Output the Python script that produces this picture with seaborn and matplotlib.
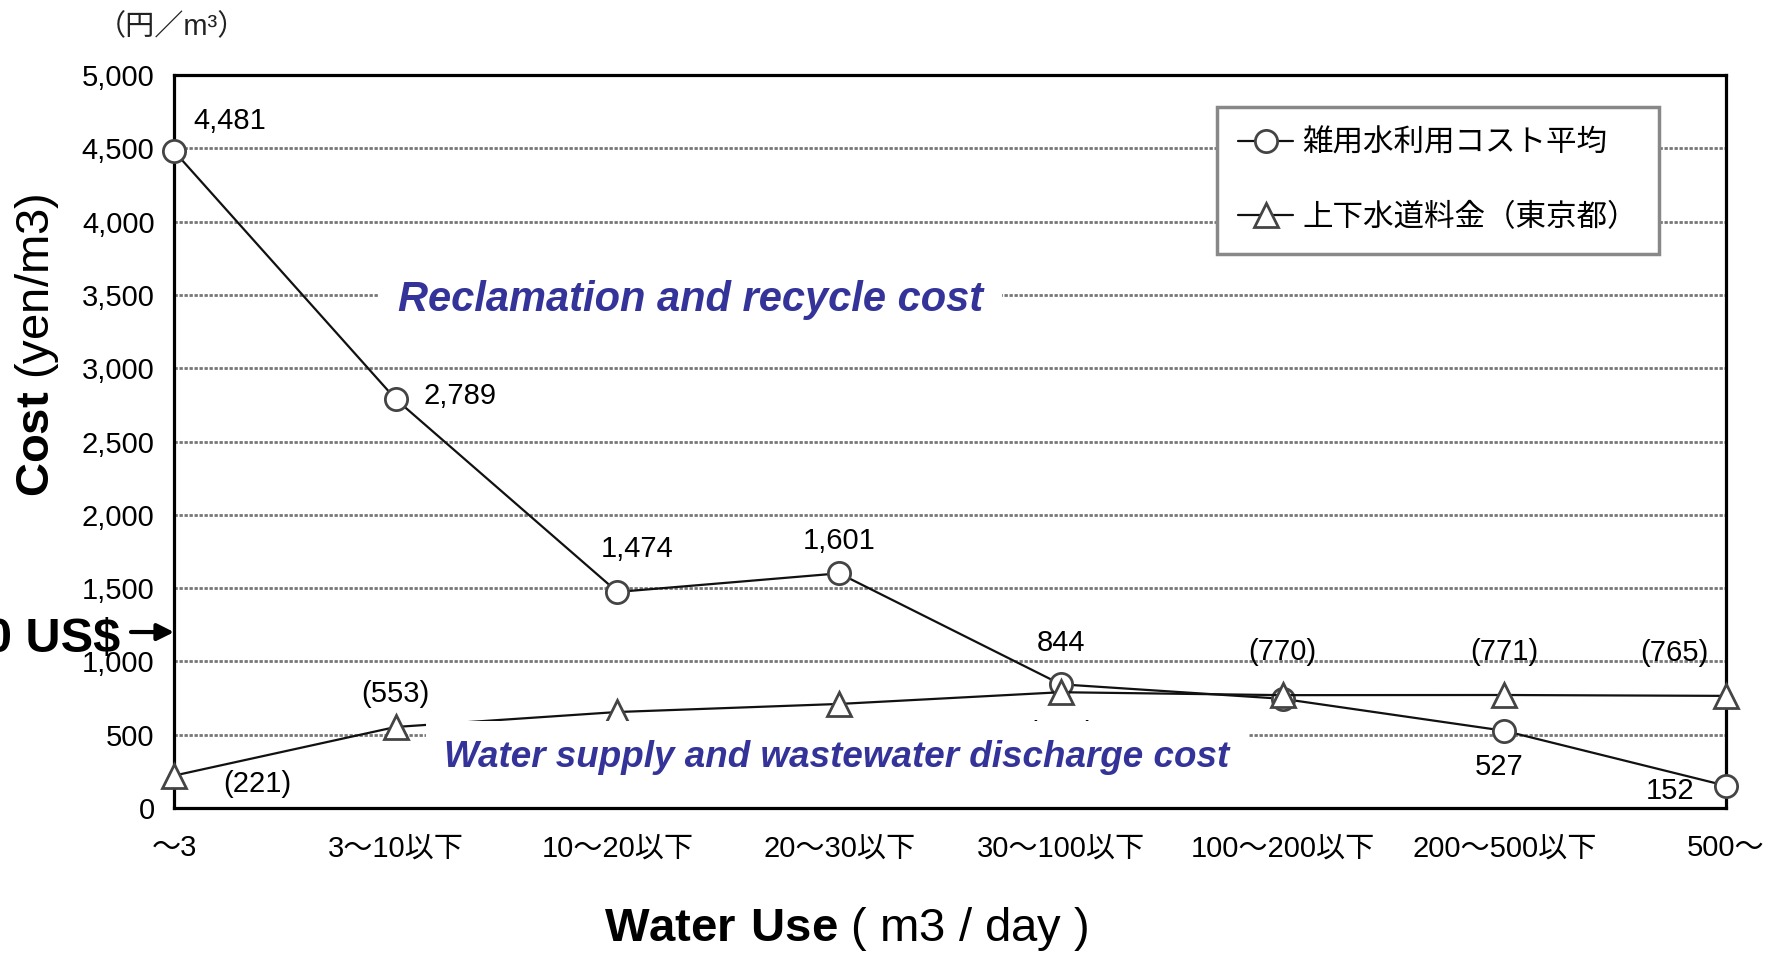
import numpy as np
import pandas as pd
import matplotlib
matplotlib.use('Agg')
import matplotlib.pyplot as plt
import seaborn as sns

# data
categories = ['～3', '3～10以下', '10～20以下', '20～30以下', '30～100以下',
              '100～200以下', '200～500以下', '500～']
reuse_cost = [4481, 2789, 1474, 1601, 844, 745, 527, 152]
reuse_text = ['4,481', '2,789', '1,474', '1,601', '844', '', '527', '152']
tap_cost = [221, 553, 655, 710, 790, 770, 771, 765]
tap_text = ['(221)', '(553)', '', '', '(790)', '(770)', '(771)', '(765)']
y_ticks = [0, 500, 1000, 1500, 2000, 2500, 3000, 3500, 4000, 4500, 5000]
legend_names = ['雑用水利用コスト平均', '上下水道料金（東京都）']

# label offsets in points (style, not data)
reuse_off = [(14, 22, 'left'), (20, 2, 'left'), (14, 31, 'center'), (0, 23, 'center'),
             (0, 30, 'center'), (0, 0, 'center'), (-4, -26, 'center'), (-40, -4, 'center')]
tap_off = [(60, -6, 'center'), (0, 24, 'center'), (0, 0, 'center'), (0, 0, 'center'),
           (0, -30, 'center'), (0, 31, 'center'), (0, 31, 'center'), (-37, 31, 'center')]

sns.set_style('white')
plt.rcParams['font.family'] = ['Liberation Sans', 'Noto Sans CJK JP']
plt.rcParams['mathtext.fontset'] = 'custom'
plt.rcParams['mathtext.rm'] = 'Liberation Sans'
plt.rcParams['mathtext.bf'] = 'Liberation Sans:bold'
plt.rcParams['text.color'] = 'black'
plt.rcParams['axes.labelcolor'] = 'black'
plt.rcParams['xtick.color'] = 'black'
plt.rcParams['ytick.color'] = 'black'

df = pd.DataFrame({'pos': np.arange(len(categories)), 'reuse': reuse_cost, 'tap': tap_cost})

fig = plt.figure(figsize=(17.83, 9.55), dpi=100)
ax = fig.add_axes([0.0976, 0.1539, 0.8704, 0.7675])

sns.lineplot(data=df, x='pos', y='reuse', ax=ax, color='#111', linewidth=1.6,
             marker='o', markersize=16, markerfacecolor='white', markeredgecolor='#444',
             markeredgewidth=2, clip_on=False, zorder=4, label=legend_names[0])
sns.lineplot(data=df, x='pos', y='tap', ax=ax, color='#111', linewidth=1.6,
             marker='^', markersize=17, markerfacecolor='white', markeredgecolor='#444',
             markeredgewidth=2, clip_on=False, zorder=4, label=legend_names[1])

ax.set_xlim(0, len(categories) - 1)
ax.set_ylim(0, 5000)
ax.set_xticks(df['pos'])
ax.set_xticklabels(categories)
ax.set_yticks(y_ticks)
ax.set_yticklabels(['{:,}'.format(v) for v in y_ticks])
ax.set_xlabel('')
ax.set_ylabel('')
ax.tick_params(axis='x', direction='in', length=13, width=1.5, pad=19, labelsize=21)
ax.tick_params(axis='y', direction='in', length=3, width=1, pad=14, labelsize=21)
ax.yaxis.grid(True, color='#777', linewidth=2, linestyle=(0, (1.2, 0.6)))
ax.xaxis.grid(False)
for s in ax.spines.values():
    s.set_color('black')
    s.set_linewidth(2.3)

# value labels
for i in range(len(categories)):
    if reuse_text[i]:
        dx, dy, ha = reuse_off[i]
        ax.annotate(reuse_text[i], (df['pos'][i], df['reuse'][i]), xytext=(dx, dy),
                    textcoords='offset points', ha=ha, va='center', fontsize=21, zorder=3)
    if tap_text[i]:
        dx, dy, ha = tap_off[i]
        ax.annotate(tap_text[i], (df['pos'][i], df['tap'][i]), xytext=(dx, dy),
                    textcoords='offset points', ha=ha, va='center', fontsize=21, zorder=3)

ax.text(2.33, 3465, 'Reclamation and recycle cost', color='#333399', fontsize=30,
        fontweight='bold', fontstyle='italic', ha='center', va='center', zorder=6,
        bbox=dict(boxstyle='square,pad=0.45', fc='white', ec='none'))
ax.text(2.99, 348, 'Water supply and wastewater discharge cost', color='#333399', fontsize=26.5,
        fontweight='bold', fontstyle='italic', ha='center', va='center', zorder=6,
        bbox=dict(boxstyle='square,pad=0.5', fc='white', ec='none'))

leg = ax.legend(loc='upper right', bbox_to_anchor=(0.957, 0.956), borderaxespad=0,
                frameon=True, fancybox=False, edgecolor='#888', framealpha=1, fontsize=22,
                handlelength=1.8, handletextpad=0.3, borderpad=0.7, labelspacing=1.45)
leg.get_frame().set_linewidth(2.5)
leg.set_zorder(7)

# arrow and labels outside the axes
ax.annotate('', xy=(0, 1200), xycoords='data', xytext=(131 / 1783, 1 - 632 / 955),
            textcoords='figure fraction', annotation_clip=False,
            arrowprops=dict(arrowstyle='-|>', color='black', lw=3, mutation_scale=25,
                            shrinkA=0, shrinkB=0))
fig.text(120 / 1783, 0.330, '10 US$', fontsize=35, fontweight='bold', ha='right', va='center')
fig.text(0.0965, 0.972, '（円／m³）', fontsize=21, ha='center', va='center', color='#222')
fig.text(0.021, 0.638, r'$\mathbf{Cost}$ (yen/m3)', rotation=90, fontsize=34,
         ha='center', va='center')
fig.text(0.4745, 0.015, r'$\mathbf{Water\ Use}$ ( m3 / day )', fontsize=34,
         ha='center', va='baseline')

fig.savefig('out.png', dpi=100)
